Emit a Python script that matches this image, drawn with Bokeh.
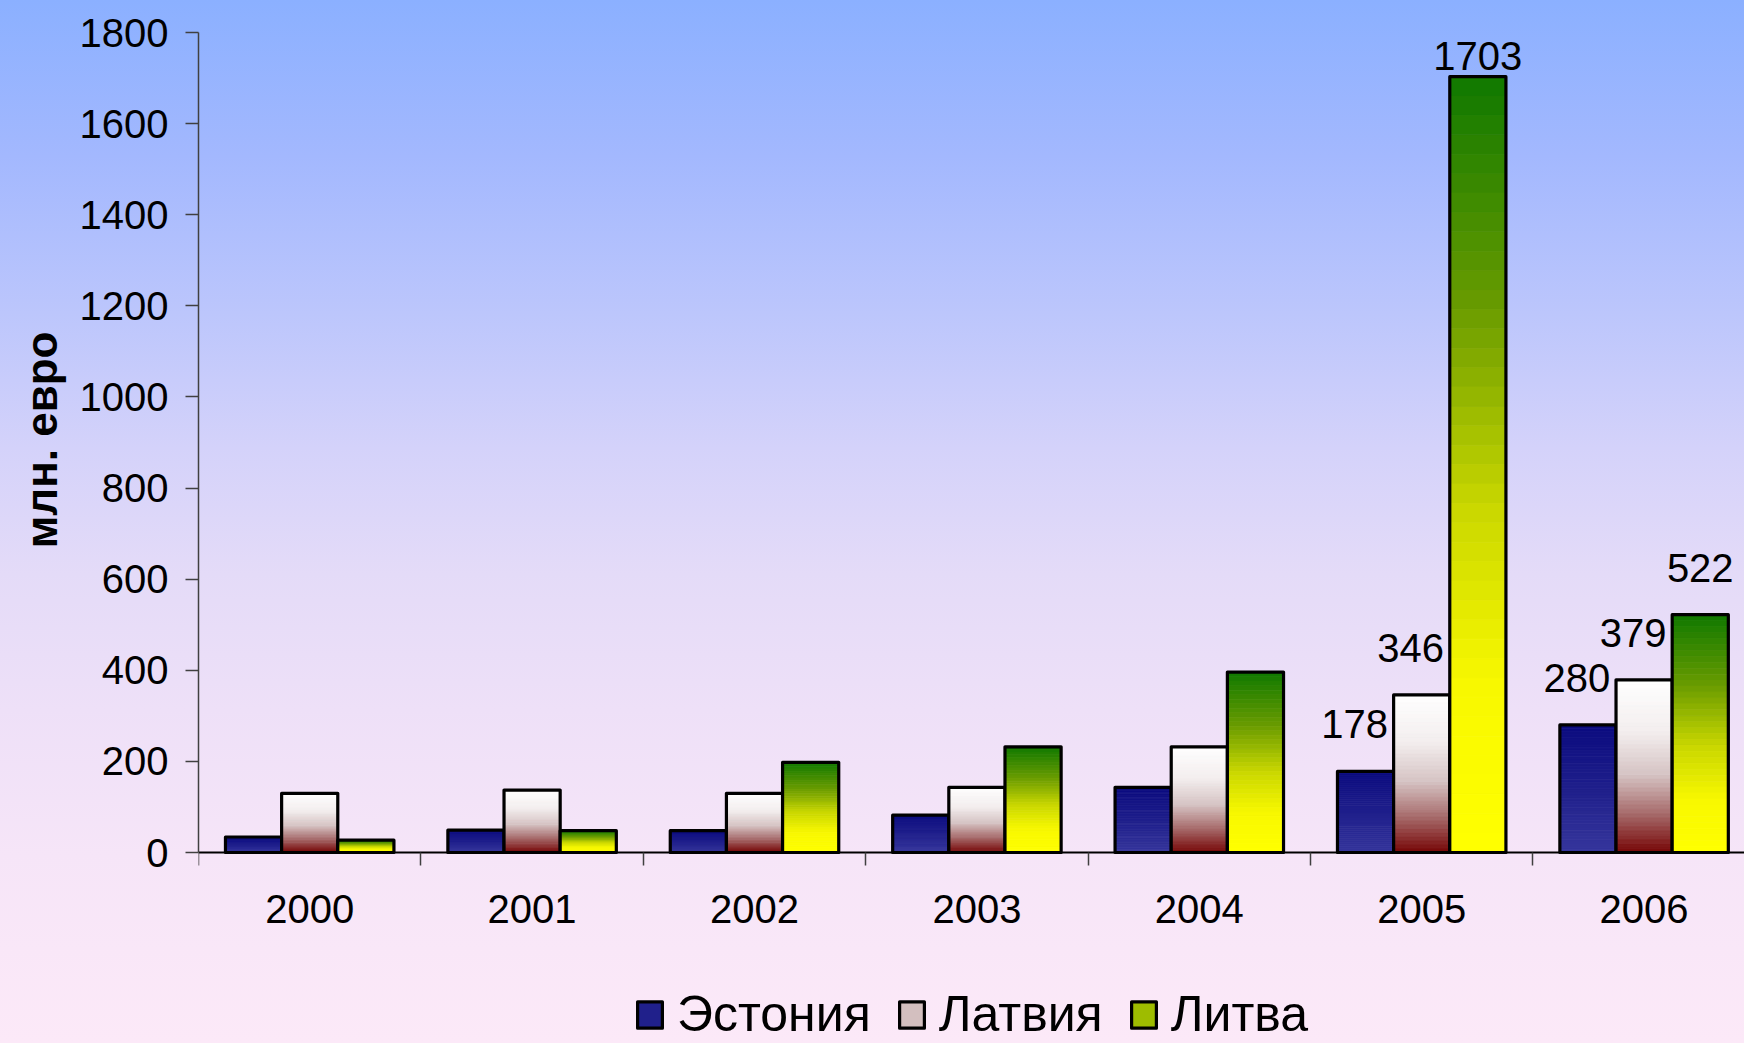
import numpy as np
from bokeh.plotting import figure
from bokeh.core.properties import value
from bokeh.models import (ColumnDataSource, Range1d, FixedTicker, Legend, LegendItem,
                          LabelSet, LinearAxis, Title, GlobalInlineStyleSheet)
from bokeh.embed import file_html
from bokeh.resources import INLINE

# ---------------- data ----------------
years = ["2000", "2001", "2002", "2003", "2004", "2005", "2006"]
estonia = [34, 49, 48, 82, 143, 178, 280]
latvia = [130, 137, 130, 143, 232, 346, 379]
lithuania = [27, 48, 198, 232, 396, 1703, 522]
series_names = ["Эстония", "Латвия", "Литва"]
y_ticks = [0, 200, 400, 600, 800, 1000, 1200, 1400, 1600, 1800]
labelled_years = ["2005", "2006"]
y_axis_title = "млн. евро"

# ---------------- styles / layout ----------------
FONT = "Liberation Sans"
BW = 0.2525          # bar width in category units
NSLICE = 40          # slices used to paint a vertical gradient
W, H = 1744, 1043
LEFT, TOP = 198, 32          # frame position of the value axis
AXIS_PX = 820                # pixel length of 0..1800
CAT_PX = 222.4               # pixel width of one year category
BOTTOM_PX = H - TOP - AXIS_PX  # room below zero for year labels and legend
Y_MAX = y_ticks[-1]
Y_MIN = -BOTTOM_PX * Y_MAX / AXIS_PX
X_END = (W - LEFT) / CAT_PX   # the last category runs past the right edge, as in the original
TITLE_TOP_PX = 299            # distance of the value-axis title's top from the frame top

stops = [
    [(0.0, "#0b0b7f"), (0.5, "#1f1f8b"), (1.0, "#36369c")],                       # Эстония
    [(0.0, "#ffffff"), (0.3, "#f3eeee"), (0.55, "#d6c4c4"), (0.78, "#a66a6a"),
     (1.0, "#760606")],                                                            # Латвия
    [(0.0, "#0f7800"), (0.3, "#6a9c00"), (0.55, "#c8d600"), (0.78, "#f8f800"),
     (1.0, "#ffff00")],                                                            # Литва
]
legend_slice = [20, 22, 17]   # slice row whose colour is shown in the legend


def hex2rgb(h):
    h = h.lstrip("#")
    return np.array([int(h[i:i + 2], 16) for i in (0, 2, 4)], dtype=float)


def grad(st, t):
    for (t0, c0), (t1, c1) in zip(st[:-1], st[1:]):
        if t <= t1:
            f = (t - t0) / (t1 - t0) if t1 > t0 else 0
            c = hex2rgb(c0) * (1 - f) + hex2rgb(c1) * f
            return "#%02x%02x%02x" % tuple(int(round(v)) for v in c)
    return st[-1][1]


all_series = [estonia, latvia, lithuania]

p = figure(width=W, height=H, output_backend="svg", toolbar_location=None,
           x_range=Range1d(0, X_END), y_range=Range1d(Y_MIN, Y_MAX),
           x_axis_location=None,
           min_border_left=LEFT, min_border_right=0, min_border_top=TOP, min_border_bottom=0)
p.background_fill_alpha = 0
p.border_fill_alpha = 0
p.outline_line_color = None
p.grid.visible = False

p.stylesheets.append(GlobalInlineStyleSheet(css="""
html { height: 100%; overflow: hidden; background: linear-gradient(to bottom,
  #8bb0ff 0%, #a3b8fe 15%, #bcc6fc 30%, #d4d2fa 43%, #e4dbf8 55%,
  #eee0f8 68%, #f6e5f8 82%, #fce9f8 100%) no-repeat; background-size: 100% 100%; }
body { margin: 0; background: transparent; }
"""))

# gradient-painted bars (slices; the legend's slice row comes first so that
# index 0 of the slice renderer carries the legend colour) + black outlines
legend_items = []
for s, vals in enumerate(all_series):
    order = [legend_slice[s]] + [k for k in range(NSLICE) if k != legend_slice[s]]
    L, R, T, B, C = [], [], [], [], []
    for k in order:
        t0, t1 = k / NSLICE, (k + 1) / NSLICE
        for i, v in enumerate(vals):
            xc = i + 0.5 + (s - 1) * BW
            L.append(xc - BW / 2)
            R.append(xc + BW / 2)
            T.append(v * (1 - t0))
            B.append(v * (1 - t1))
            C.append(grad(stops[s], (t0 + t1) / 2))
    r_fill = p.quad(left=L, right=R, top=T, bottom=B, fill_color=C, line_color=C,
                    line_width=0.8)
    xs = [i + 0.5 + (s - 1) * BW for i in range(len(years))]
    r_line = p.vbar(x=xs, top=vals, width=BW, fill_alpha=0, line_color="black",
                    line_width=3.2, line_join="round")
    legend_items.append(LegendItem(label=series_names[s], renderers=[r_fill, r_line],
                                   index=0))

# data labels
lx, ly, lt, lxo, lyo = [], [], [], [], []
for s, vals in enumerate(all_series):
    for i, v in enumerate(vals):
        if years[i] in labelled_years:
            lx.append(i + 0.5 + (s - 1) * BW)
            ly.append(v)
            lt.append(str(v))
            lxo.append(-11 if s < 2 else 0)
            lyo.append(7 if v > 1600 else 33)
p.add_layout(LabelSet(x="x", y="y", text="t", x_offset="xo", y_offset="yo",
                      source=ColumnDataSource(dict(x=lx, y=ly, t=lt, xo=lxo, yo=lyo)),
                      text_align="center", text_baseline="alphabetic",
                      text_font=value(FONT), text_font_size="40px", text_color="black"))

# x axis at value 0: labels at category centres, ticks at category boundaries
xa = LinearAxis(fixed_location=0)
xa.ticker = FixedTicker(ticks=[i + 0.5 for i in range(len(years))],
                        minor_ticks=list(range(len(years) + 1)))
xa.major_label_overrides = {i + 0.5: y for i, y in enumerate(years)}
xa.major_tick_line_color = None
xa.major_tick_out = 0
xa.major_tick_in = 0
xa.minor_tick_out = 13
xa.minor_tick_in = 0
xa.minor_tick_line_color = "#404040"
xa.minor_tick_line_width = 1.5
xa.axis_line_color = "black"
xa.axis_line_width = 2
xa.major_label_standoff = 29
xa.major_label_text_font = FONT
xa.major_label_text_font_size = "40px"
xa.major_label_text_color = "black"
p.add_layout(xa, "below")

ya = p.yaxis[0]
ya.ticker = FixedTicker(ticks=y_ticks)
ya.bounds = (0, Y_MAX)
ya.minor_tick_line_color = None
ya.major_tick_out = 13
ya.major_tick_in = 0
ya.major_tick_line_color = "#404040"
ya.major_tick_line_width = 1.5
ya.axis_line_color = "#404040"
ya.axis_line_width = 1.5
ya.major_label_standoff = 17
ya.major_label_text_font = FONT
ya.major_label_text_font_size = "40px"
ya.major_label_text_color = "black"

# value-axis title, placed alongside the 0..1800 span (the frame also holds the room below 0)
p.add_layout(Title(text=y_axis_title, align="right", offset=TITLE_TOP_PX, standoff=22,
                   text_font=FONT, text_font_size="44px", text_font_style="bold",
                   text_color="black"), "left")

legend = Legend(items=legend_items, orientation="horizontal", location=(436, 0),
                label_text_font=FONT, label_text_font_size="50px", label_text_color="black",
                glyph_width=31, glyph_height=33, label_standoff=12, spacing=25,
                padding=0, margin=0, background_fill_alpha=0, border_line_color=None)
p.add_layout(legend, "center")

open("out.html", "w").write(file_html(p, INLINE))
